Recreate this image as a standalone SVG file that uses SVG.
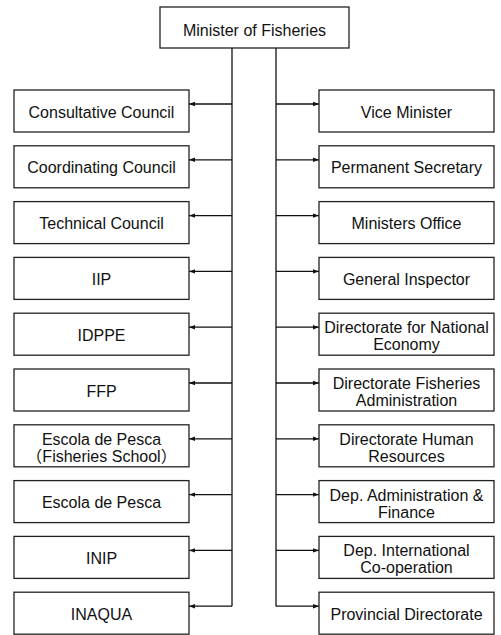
<svg xmlns="http://www.w3.org/2000/svg" width="501" height="635" viewBox="0 0 501 635">
<style>
rect{fill:#fff;stroke:#222;stroke-width:1.3}
text{font-family:"Liberation Sans","Noto Sans CJK JP",sans-serif;font-size:16px;fill:#111;text-anchor:middle}
.c line{stroke:#111;stroke-width:1.3}
</style>
<defs>
<marker id="ah" markerUnits="userSpaceOnUse" markerWidth="6" markerHeight="6" refX="6" refY="3" orient="auto">
<path d="M0,0.8 L6,3 L0,5.2 z" fill="#111"/>
</marker>
</defs>
<g id="minister"><rect x="160" y="7" width="189" height="41"/><text x="254.5" y="36">Minister of Fisheries</text></g>
<g class="c" id="connectors">
<line x1="232" y1="48" x2="232" y2="606.2"/>
<line x1="276" y1="48" x2="276" y2="606.2"/>
<line x1="232" y1="104" x2="189" y2="104" marker-end="url(#ah)"/>
<line x1="232" y1="159.8" x2="189" y2="159.8" marker-end="url(#ah)"/>
<line x1="232" y1="215.6" x2="189" y2="215.6" marker-end="url(#ah)"/>
<line x1="232" y1="271.4" x2="189" y2="271.4" marker-end="url(#ah)"/>
<line x1="232" y1="327.2" x2="189" y2="327.2" marker-end="url(#ah)"/>
<line x1="232" y1="383" x2="189" y2="383" marker-end="url(#ah)"/>
<line x1="232" y1="438.8" x2="189" y2="438.8" marker-end="url(#ah)"/>
<line x1="232" y1="494.6" x2="189" y2="494.6" marker-end="url(#ah)"/>
<line x1="232" y1="550.4" x2="189" y2="550.4" marker-end="url(#ah)"/>
<line x1="232" y1="606.2" x2="189" y2="606.2" marker-end="url(#ah)"/>
<line x1="276" y1="104" x2="319" y2="104" marker-end="url(#ah)"/>
<line x1="276" y1="159.8" x2="319" y2="159.8" marker-end="url(#ah)"/>
<line x1="276" y1="215.6" x2="319" y2="215.6" marker-end="url(#ah)"/>
<line x1="276" y1="271.4" x2="319" y2="271.4" marker-end="url(#ah)"/>
<line x1="276" y1="327.2" x2="319" y2="327.2" marker-end="url(#ah)"/>
<line x1="276" y1="383" x2="319" y2="383" marker-end="url(#ah)"/>
<line x1="276" y1="438.8" x2="319" y2="438.8" marker-end="url(#ah)"/>
<line x1="276" y1="494.6" x2="319" y2="494.6" marker-end="url(#ah)"/>
<line x1="276" y1="550.4" x2="319" y2="550.4" marker-end="url(#ah)"/>
<line x1="276" y1="606.2" x2="319" y2="606.2" marker-end="url(#ah)"/>
</g>
<g id="consultative"><rect x="14" y="90" width="175" height="42"/><text x="101.5" y="117.5">Consultative Council</text></g>
<g id="coordinating"><rect x="14" y="145.8" width="175" height="42"/><text x="101.5" y="173.3">Coordinating Council</text></g>
<g id="technical"><rect x="14" y="201.6" width="175" height="42"/><text x="101.5" y="229.1">Technical Council</text></g>
<g id="iip"><rect x="14" y="257.4" width="175" height="42"/><text x="101.5" y="284.9">IIP</text></g>
<g id="idppe"><rect x="14" y="313.2" width="175" height="42"/><text x="101.5" y="340.7">IDPPE</text></g>
<g id="ffp"><rect x="14" y="369" width="175" height="42"/><text x="101.5" y="396.5">FFP</text></g>
<g id="escola1"><rect x="14" y="424.8" width="175" height="42"/><text x="101.5" y="444.8">Escola de Pesca</text><text x="101.5" y="461.8">（Fisheries School）</text></g>
<g id="escola2"><rect x="14" y="480.6" width="175" height="42"/><text x="101.5" y="508.1">Escola de Pesca</text></g>
<g id="inip"><rect x="14" y="536.4" width="175" height="42"/><text x="101.5" y="563.9">INIP</text></g>
<g id="inaqua"><rect x="14" y="592.2" width="175" height="42"/><text x="101.5" y="619.7">INAQUA</text></g>
<g id="vice"><rect x="319" y="90" width="175" height="42"/><text x="406.5" y="117.5">Vice Minister</text></g>
<g id="permanent"><rect x="319" y="145.8" width="175" height="42"/><text x="406.5" y="173.3">Permanent Secretary</text></g>
<g id="office"><rect x="319" y="201.6" width="175" height="42"/><text x="406.5" y="229.1">Ministers Office</text></g>
<g id="inspector"><rect x="319" y="257.4" width="175" height="42"/><text x="406.5" y="284.9">General Inspector</text></g>
<g id="national"><rect x="319" y="313.2" width="175" height="42"/><text x="406.5" y="333.2">Directorate for National</text><text x="406.5" y="350.2">Economy</text></g>
<g id="fisheriesadmin"><rect x="319" y="369" width="175" height="42"/><text x="406.5" y="389">Directorate Fisheries</text><text x="406.5" y="406">Administration</text></g>
<g id="human"><rect x="319" y="424.8" width="175" height="42"/><text x="406.5" y="444.8">Directorate Human</text><text x="406.5" y="461.8">Resources</text></g>
<g id="finance"><rect x="319" y="480.6" width="175" height="42"/><text x="406.5" y="500.6">Dep. Administration &amp;</text><text x="406.5" y="517.6">Finance</text></g>
<g id="intl"><rect x="319" y="536.4" width="175" height="42"/><text x="406.5" y="556.4">Dep. International</text><text x="406.5" y="573.4">Co-operation</text></g>
<g id="provincial"><rect x="319" y="592.2" width="175" height="42"/><text x="406.5" y="619.7">Provincial Directorate</text></g>
</svg>
